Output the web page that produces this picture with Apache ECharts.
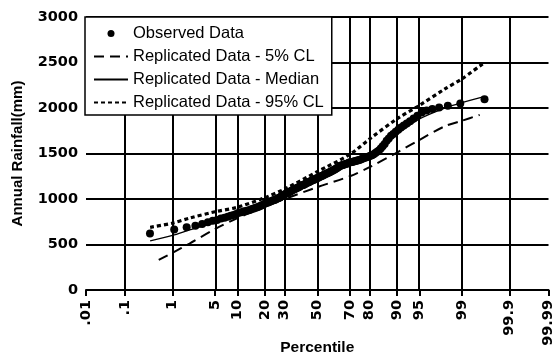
<!DOCTYPE html>
<html>
<head>
<meta charset="utf-8">
<script src="https://cdn.jsdelivr.net/npm/echarts@6/dist/echarts.min.js"></script>
<style>
  html, body { margin: 0; padding: 0; background: #fff; }
  #chart { width: 555px; height: 357px; }
</style>
</head>
<body>
<div id="chart"></div>
<script>
// percentile ticks on the probability axis
const tickPct = [0.01, 0.1, 1, 5, 10, 20, 30, 50, 70, 80, 90, 95, 99, 99.9, 99.99];
const tickLabels = ['.01', '.1', '1', '5', '10', '20', '30', '50', '70', '80', '90', '95', '99', '99.9', '99.99'];

// observed annual rainfall, sorted (mm)
const observedRain = [
  620, 665, 690, 705, 725, 745, 760, 770, 785, 795,
  805, 815, 825, 835, 848, 855, 862, 868, 875, 880,
  890, 896, 903, 910, 918, 925, 935, 945, 952, 958,
  965, 972, 978, 985, 990, 998, 1005, 1012, 1020, 1030,
  1038, 1048, 1055, 1060, 1068, 1075, 1083, 1090, 1098, 1105,
  1110, 1118, 1125, 1130, 1138, 1145, 1150, 1155, 1160, 1168,
  1175, 1180, 1185, 1192, 1198, 1205, 1210, 1215, 1222, 1228,
  1232, 1240, 1245, 1250, 1256, 1262, 1268, 1275, 1280, 1286,
  1292, 1298, 1305, 1310, 1318, 1325, 1332, 1340, 1350, 1360,
  1366, 1370, 1375, 1380, 1384, 1388, 1394, 1400, 1403, 1406,
  1410, 1414, 1418, 1422, 1427, 1432, 1438, 1444, 1450, 1456,
  1462, 1468, 1474, 1482, 1492, 1505, 1518, 1532, 1555, 1580,
  1605, 1640, 1665, 1695, 1715, 1740, 1760, 1785, 1808, 1830,
  1855, 1885, 1915, 1950, 1972, 1990, 2005, 2025, 2050, 2095
];

// replicated data curves (percentile, mm)
const lowPct = [0.54, 1, 2, 5, 10, 20, 30, 50, 70, 80, 90, 95, 98, 99, 99.55];
const lowRain = [330, 410, 510, 670, 790, 920, 1000, 1130, 1250, 1350, 1510, 1650, 1800, 1860, 1925];

const medPct = [0.36, 1, 2, 5, 10, 20, 30, 50, 70, 80, 90, 95, 98, 99, 99.6];
const medRain = [540, 600, 660, 740, 820, 940, 1040, 1220, 1390, 1480, 1710, 1880, 2000, 2060, 2120];

const highPct = [0.36, 1, 2, 5, 10, 20, 30, 50, 70, 80, 90, 95, 98, 99, 99.62];
const highRain = [689, 735, 790, 860, 910, 1015, 1110, 1300, 1490, 1660, 1880, 2030, 2210, 2320, 2490];

// inverse normal cdf (Acklam) -- the probability-paper scale
function probit(p) {
  const a = [-39.69683028665376, 220.9460984245205, -275.9285104469687, 138.3577518672690, -30.66479806614716, 2.506628277459239];
  const b = [-54.47609879822406, 161.5858368580409, -155.6989798598866, 66.80131188771972, -13.28068155288572];
  const c = [-0.007784894002430293, -0.3223964580411365, -2.400758277161838, -2.549732539343734, 4.374664141464968, 2.938163982698783];
  const d = [0.007784695709041462, 0.3224671290700398, 2.445134137142996, 3.754408661907416];
  const pl = 0.02425;
  let q, r;
  if (p < pl) {
    q = Math.sqrt(-2 * Math.log(p));
    return (((((c[0]*q+c[1])*q+c[2])*q+c[3])*q+c[4])*q+c[5]) / ((((d[0]*q+d[1])*q+d[2])*q+d[3])*q+1);
  }
  if (p > 1 - pl) {
    q = Math.sqrt(-2 * Math.log(1 - p));
    return -(((((c[0]*q+c[1])*q+c[2])*q+c[3])*q+c[4])*q+c[5]) / ((((d[0]*q+d[1])*q+d[2])*q+d[3])*q+1);
  }
  q = p - 0.5;
  r = q * q;
  return (((((a[0]*r+a[1])*r+a[2])*r+a[3])*r+a[4])*r+a[5])*q / (((((b[0]*r+b[1])*r+b[2])*r+b[3])*r+b[4])*r+1);
}

const z = pct => probit(pct / 100);
const tickZ = tickPct.map(z);

// Hazen plotting positions for the ranked observations
const n = observedRain.length;
const observedPts = observedRain.map((v, i) => [z((i + 0.5) / n * 100), v]);
const toPts = (pcts, vals) => pcts.map((p, i) => [z(p), vals[i]]);

const tickFont = { fontFamily: 'DejaVu Sans', fontWeight: 'bold', fontSize: 14.5, color: '#000' };
const titleFont = { fontFamily: 'Liberation Sans', fontWeight: 'bold', fontSize: 15.5, color: '#000' };

const chart = echarts.init(document.getElementById('chart'), null, { renderer: 'canvas' });

// line-only legend icons (hide the marker dot)
const lineLegendItem = name => ({ name, itemStyle: { opacity: 0 } });

chart.setOption({
  animation: false,
  backgroundColor: '#fff',
  grid: { left: 86, right: 6.5, top: 17, bottom: 67, containLabel: false, outerBoundsMode: 'none' },
  legend: {
    left: 85,
    top: 17,
    orient: 'vertical',
    backgroundColor: '#fff',
    borderColor: '#000',
    borderWidth: 1.5,
    borderRadius: 0,
    padding: [8, 8, 4, 8],
    itemWidth: 34,
    itemHeight: 7,
    itemGap: 6,
    textStyle: { fontFamily: 'Liberation Sans', fontSize: 16.5, color: '#000', lineHeight: 15 },
    z: 10,
    data: [
      { name: 'Observed Data', icon: 'circle' },
      lineLegendItem('Replicated Data - 5% CL'),
      lineLegendItem('Replicated Data - Median'),
      lineLegendItem('Replicated Data - 95% CL')
    ]
  },
  xAxis: {
    type: 'value',
    min: z(0.01),
    max: z(99.99),
    name: 'Percentile',
    nameLocation: 'middle',
    nameGap: 50,
    nameMoveOverlap: false,
    nameTextStyle: titleFont,
    axisLine: { lineStyle: { color: '#000', width: 2 } },
    axisTick: { show: true, customValues: tickZ, length: 6, lineStyle: { color: '#000', width: 2 } },
    axisLabel: {
      customValues: tickZ,
      rotate: 90,
      margin: 10,
      ...tickFont,
      formatter: v => {
        let best = 0;
        tickZ.forEach((t, i) => { if (Math.abs(t - v) < Math.abs(tickZ[best] - v)) best = i; });
        return tickLabels[best];
      }
    },
    splitLine: { show: false }
  },
  yAxis: {
    type: 'value',
    min: 0,
    max: 3000,
    interval: 500,
    name: 'Annual Rainfall(mm)',
    nameLocation: 'middle',
    nameGap: 61,
    nameMoveOverlap: false,
    nameTextStyle: { ...titleFont, fontSize: 15 },
    axisLine: { show: true, lineStyle: { color: '#000', width: 2 } },
    axisTick: { show: true, length: 6, lineStyle: { color: '#000', width: 2 } },
    axisLabel: { margin: 8, ...tickFont, formatter: v => String(v) },
    splitLine: { show: true, lineStyle: { color: '#000', width: 2 } }
  },
  series: [
    {
      // vertical grid lines at the percentile ticks
      name: 'grid',
      type: 'line',
      data: [],
      silent: true,
      z: 1,
      markLine: {
        silent: true,
        symbol: 'none',
        label: { show: false },
        lineStyle: { color: '#000', width: 2, type: 'solid' },
        data: tickZ.map(t => ({ xAxis: t }))
      }
    },
    {
      name: 'Replicated Data - 5% CL',
      type: 'line',
      data: toPts(lowPct, lowRain),
      smooth: 0.3,
      symbol: 'none',
      z: 3,
      lineStyle: { color: '#000', width: 2, type: [10, 6] },
      itemStyle: { color: '#000' }
    },
    {
      name: 'Replicated Data - Median',
      type: 'line',
      data: toPts(medPct, medRain),
      smooth: 0.3,
      symbol: 'none',
      z: 3,
      lineStyle: { color: '#000', width: 1.3 },
      itemStyle: { color: '#000' }
    },
    {
      name: 'Replicated Data - 95% CL',
      type: 'line',
      data: toPts(highPct, highRain),
      smooth: 0.3,
      symbol: 'none',
      z: 3,
      lineStyle: { color: '#000', width: 3.2, type: [4, 3] },
      itemStyle: { color: '#000' }
    },
    {
      name: 'Observed Data',
      type: 'scatter',
      data: observedPts,
      symbol: 'circle',
      symbolSize: 8,
      z: 4,
      itemStyle: { color: '#000', opacity: 1 }
    }
  ]
});
</script>
</body>
</html>
